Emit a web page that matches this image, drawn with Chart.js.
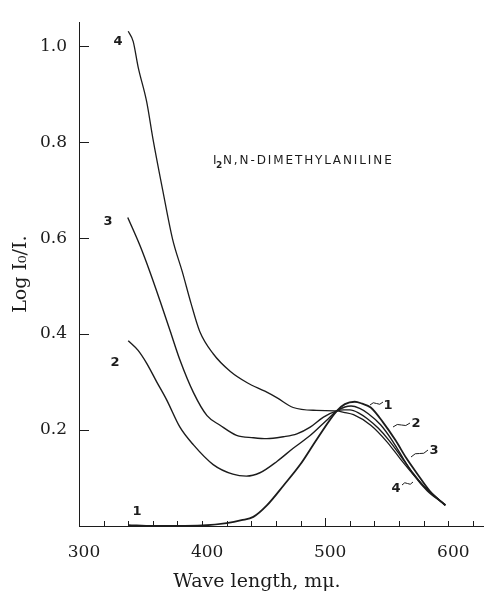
<!DOCTYPE html>
<html>
<head>
<meta charset="utf-8">
<script src="https://cdn.jsdelivr.net/npm/chart.js@4.4.1/dist/chart.umd.min.js"></script>
<style>
  body { margin: 0; background: #fff; }
  canvas { display: block; }
</style>
</head>
<body>
<canvas id="spectrum" width="484" height="593"></canvas>
<script>
const curve1X = [340, 360, 380, 400, 420, 432, 441.6, 452.6, 466, 479.7, 493.5, 509.5, 516, 524, 530, 537, 547, 557, 566, 575, 585, 597.6];
const curve1Y = [0.002, 0.0, 0.0, 0.001, 0.006, 0.012, 0.019, 0.043, 0.084, 0.128, 0.182, 0.240, 0.254, 0.259, 0.255, 0.247, 0.216, 0.179, 0.141, 0.108, 0.073, 0.043];

const curve2X = [340, 348, 355, 363, 371, 382, 393, 409, 425, 436, 447, 461, 474, 488, 501, 509.5, 516, 521, 528, 535, 545, 555, 564, 572, 583, 597.6];
const curve2Y = [0.386, 0.366, 0.339, 0.301, 0.264, 0.206, 0.169, 0.128, 0.108, 0.104, 0.111, 0.135, 0.162, 0.189, 0.220, 0.240, 0.248, 0.250, 0.245, 0.234, 0.211, 0.176, 0.138, 0.106, 0.073, 0.044];

const curve3X = [339.6, 349.6, 357.7, 366, 374, 382, 393, 404, 414.6, 428, 441.7, 452.6, 466, 477, 487.8, 498.6, 509.5, 515, 520, 527, 534, 543, 552, 561, 570, 581, 590, 597.6];
const curve3Y = [0.643, 0.584, 0.529, 0.468, 0.407, 0.346, 0.278, 0.230, 0.210, 0.189, 0.184, 0.182, 0.186, 0.192, 0.206, 0.227, 0.240, 0.242, 0.242, 0.236, 0.224, 0.204, 0.178, 0.147, 0.115, 0.080, 0.060, 0.044];

const curve4X = [340, 344, 348, 355, 360, 368, 376, 384, 391, 398, 409, 423, 437, 451, 461, 474, 493, 509.5, 515, 523, 537, 550, 561, 572, 583, 591, 597.6];
const curve4Y = [1.031, 1.010, 0.957, 0.884, 0.808, 0.700, 0.598, 0.529, 0.464, 0.406, 0.359, 0.322, 0.298, 0.281, 0.267, 0.247, 0.241, 0.240, 0.237, 0.232, 0.210, 0.176, 0.140, 0.106, 0.076, 0.058, 0.043];

const xTickValues = [300, 400, 500, 600];
const yTickValues = [0.2, 0.4, 0.6, 0.8, 1.0];

const ink = '#1c1c1c';

function toPoints(xs, ys) {
    return xs.map((x, i) => ({ x: x, y: ys[i] }));
}

function curve(xs, ys, width) {
    return {
        data: toPoints(xs, ys),
        borderColor: ink,
        borderWidth: width,
        pointRadius: 0,
        fill: false,
        cubicInterpolationMode: 'monotone'
    };
}

// little wavy leader from a curve to its number
function tilde(ctx, x1, y1, x2, y2) {
    const mx = (x1 + x2) / 2, my = (y1 + y2) / 2;
    ctx.beginPath();
    ctx.moveTo(x1, y1);
    ctx.quadraticCurveTo((x1 + mx) / 2, (y1 + my) / 2 - 3, mx, my);
    ctx.quadraticCurveTo((mx + x2) / 2, (my + y2) / 2 + 3, x2, y2);
    ctx.stroke();
}

function spacedText(ctx, text, x, y, width) {
    const plain = ctx.measureText(text).width;
    const gap = (width - plain) / (text.length - 1);
    let cx = x;
    for (const ch of text) {
        ctx.fillText(ch, cx, y);
        cx += ctx.measureText(ch).width + gap;
    }
}

const decorations = {
    id: 'decorations',
    afterDraw(chart) {
        const ctx = chart.ctx;
        const xs = chart.scales.x;
        const ys = chart.scales.y;
        ctx.save();
        ctx.strokeStyle = ink;
        ctx.fillStyle = ink;
        ctx.lineWidth = 1;

        // inward ticks
        yTickValues.forEach(v => {
            const py = Math.round(ys.getPixelForValue(v)) + 0.5;
            ctx.beginPath();
            ctx.moveTo(xs.left, py);
            ctx.lineTo(xs.left + 10, py);
            ctx.stroke();
        });
        for (let v = 320; v <= 620; v += 20) {
            const px = Math.round(xs.getPixelForValue(v)) + 0.5;
            ctx.beginPath();
            ctx.moveTo(px, ys.bottom);
            ctx.lineTo(px, ys.bottom - (v === 500 ? 8 : 5));
            ctx.stroke();
        }

        // x axis title
        ctx.font = '19px "DejaVu Serif"';
        ctx.textAlign = 'center';
        ctx.textBaseline = 'alphabetic';
        ctx.fillText('Wave length, mμ.', 257, 587);

        // compound label
        ctx.textAlign = 'left';
        ctx.font = '12px "DejaVu Sans"';
        ctx.fillText('I', 213, 164);
        ctx.font = 'bold 9px "DejaVu Sans"';
        ctx.fillText('2', 216, 168);
        ctx.font = '12px "DejaVu Sans"';
        spacedText(ctx, 'N,N-DIMETHYLANILINE', 223, 164, 169);

        // curve numbers
        ctx.font = 'bold 13px "DejaVu Sans"';
        ctx.textAlign = 'center';
        ctx.textBaseline = 'middle';
        ctx.fillText('4', 118, 42);
        ctx.fillText('3', 108, 222);
        ctx.fillText('2', 115, 363);
        ctx.fillText('1', 137, 512);
        ctx.fillText('1', 388, 406);
        ctx.fillText('2', 416, 424);
        ctx.fillText('3', 434, 451);
        ctx.fillText('4', 396, 489);

        tilde(ctx, 370, 405, 383, 402);
        tilde(ctx, 393, 427, 410, 423);
        tilde(ctx, 411, 457, 428, 450);
        tilde(ctx, 402, 485, 413, 482);
        ctx.restore();
    }
};

new Chart(document.getElementById('spectrum').getContext('2d'), {
    type: 'line',
    data: {
        datasets: [
            curve(curve1X, curve1Y, 1.8),
            curve(curve2X, curve2Y, 1.4),
            curve(curve3X, curve3Y, 1.4),
            curve(curve4X, curve4Y, 1.3)
        ]
    },
    options: {
        responsive: false,
        devicePixelRatio: 1,
        animation: false,
        layout: { padding: { top: 11.5, left: 0, right: 0, bottom: 0 } },
        plugins: {
            legend: { display: false },
            tooltip: { enabled: false }
        },
        scales: {
            x: {
                type: 'linear',
                min: 300,
                max: 629,
                afterFit(scale) { scale.height = 67; },
                afterBuildTicks(scale) { scale.ticks = xTickValues.map(v => ({ value: v })); },
                grid: { drawOnChartArea: false, drawTicks: false },
                border: { display: true, color: ink, width: 1 },
                ticks: {
                    color: ink,
                    padding: 16,
                    labelOffset: 5,
                    maxRotation: 0,
                    font: { family: 'DejaVu Serif', size: 17 },
                    callback: v => String(v)
                }
            },
            y: {
                min: 0,
                max: 1.05,
                afterFit(scale) { scale.width = 79; },
                afterBuildTicks(scale) { scale.ticks = yTickValues.map(v => ({ value: v })); },
                grid: { drawOnChartArea: false, drawTicks: false },
                border: { display: true, color: ink, width: 1 },
                title: {
                    display: true,
                    text: 'Log I₀/I.',
                    color: ink,
                    padding: { top: 10, bottom: 0 },
                    font: { family: 'DejaVu Serif', size: 19 }
                },
                ticks: {
                    color: ink,
                    padding: 12,
                    font: { family: 'DejaVu Serif', size: 17 },
                    callback: v => Number(v).toFixed(1)
                }
            }
        }
    },
    plugins: [decorations]
});
</script>
</body>
</html>
